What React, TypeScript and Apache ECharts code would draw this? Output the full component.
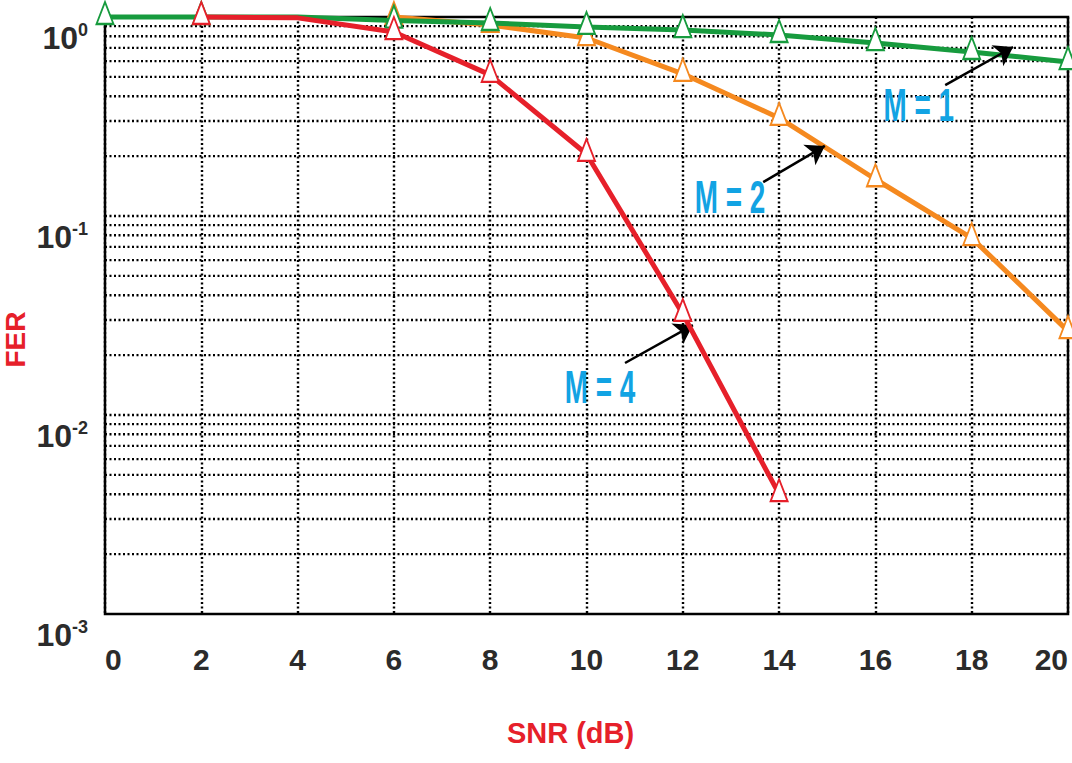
import React, { useEffect, useRef } from 'react';
import * as echarts from 'echarts';

// ---- data ----
const snrM1 = [0, 2, 4, 6, 8, 10, 12, 14, 16, 18, 20];
const ferM1 = [1.0, 1.0, 1.0, 0.96, 0.933, 0.891, 0.86, 0.812, 0.74, 0.667, 0.594];

const snrM2 = [6, 8, 10, 12, 14, 16, 18, 20];
const ferM2 = [1.0, 0.912, 0.784, 0.518, 0.311, 0.153, 0.0775, 0.0264];

const snrM4 = [2, 4, 6, 8, 10, 12, 14];
const ferM4 = [1.0, 0.99, 0.84, 0.512, 0.205, 0.0322, 0.004];

const hiddenMarkerSnr = [4];

// horizontal dotted grid values (1..9 x 10^k)
const yGridValues = [
  0.002, 0.003, 0.004, 0.005, 0.006, 0.007, 0.008, 0.009,
  0.01, 0.02, 0.03, 0.04, 0.05, 0.06, 0.07, 0.08, 0.09,
  0.1, 0.2, 0.3, 0.4, 0.5, 0.6, 0.7, 0.8, 0.9,
];

const annotationLabels = ['M = 1', 'M = 2', 'M = 4'];
const annotationPos = [[16.9, 0.361], [12.98, 0.1245], [10.28, 0.01383]];
const arrowFrom = [[17.45, 0.455], [13.67, 0.148], [10.8, 0.01825]];
const arrowTo = [[18.86, 0.707], [14.95, 0.225], [12.21, 0.0283]];

const X_MIN = 0;
const X_MAX = 20;
const X_STEP = 2;

const FONT = "'Liberation Sans', Arial, sans-serif";
const RED = '#e6202a';
const GREEN = '#179b3e';
const ORANGE = '#f5891f';
const CYAN = '#12a3e3';
const LABEL_GREY = '#2b2b2b';

function buildSeriesData(xs: number[], ys: number[]) {
  return xs.map((x, i) =>
    hiddenMarkerSnr.includes(x)
      ? { value: [x, ys[i]], symbol: 'none' }
      : { value: [x, ys[i]] }
  );
}

function lineSeries(name: string, xs: number[], ys: number[], color: string, z: number) {
  return {
    name,
    type: 'line',
    data: buildSeriesData(xs, ys),
    z,
    clip: false,
    symbol: 'triangle',
    symbolSize: [17, 22],
    symbolOffset: [0, -4],
    showAllSymbol: true,
    lineStyle: { color, width: 5 },
    itemStyle: { color: '#ffffff', borderColor: color, borderWidth: 2 },
    emphasis: { disabled: true },
  };
}

export default function App() {
  const ref = useRef<HTMLDivElement>(null);

  useEffect(() => {
    if (!ref.current) return;
    const chart = echarts.init(ref.current, undefined, { renderer: 'svg' });

    const option: any = {
      animation: false,
      backgroundColor: '#ffffff',
      grid: {
        left: 105,
        right: 4,
        top: 17,
        bottom: 149,
        show: true,
        borderColor: '#000',
        borderWidth: 2.5,
        backgroundColor: 'transparent',
        outerBoundsMode: 'none',
      },
      xAxis: {
        type: 'value',
        min: X_MIN,
        max: X_MAX,
        interval: X_STEP,
        name: 'SNR (dB)',
        nameLocation: 'middle',
        nameGap: 104,
        nameMoveOverlap: false,
        nameTextStyle: {
          color: RED,
          fontSize: 29,
          fontWeight: 'bold',
          fontFamily: FONT,
          padding: [0, 32, 0, 0],
        },
        axisLine: { show: false },
        axisTick: { show: false },
        axisLabel: {
          margin: 30,
          fontSize: 30,
          fontWeight: 'bold',
          fontFamily: FONT,
          color: LABEL_GREY,
          alignMinLabel: 'left',
          alignMaxLabel: 'right',
        },
        splitLine: {
          show: true,
          lineStyle: { color: '#000', width: 2.4, type: [2, 2.5] },
        },
      },
      yAxis: {
        type: 'log',
        logBase: 10,
        min: 0.001,
        max: 1,
        name: 'FER',
        nameLocation: 'middle',
        nameRotate: 90,
        nameGap: 76,
        nameMoveOverlap: false,
        nameTextStyle: {
          color: RED,
          fontSize: 28,
          fontWeight: 'bold',
          fontFamily: FONT,
          padding: [0, 48, 0, 0],
        },
        axisLine: { show: false },
        axisTick: { show: false },
        splitLine: { show: false },
        axisLabel: {
          margin: 17,
          verticalAlign: 'top',
          padding: [4, 0, 0, 0],
          formatter: (v: number) => {
            const e = Math.round(Math.log10(v));
            return `{b|10}{s|${e}}`;
          },
          rich: {
            b: {
              fontSize: 32,
              lineHeight: 34,
              fontWeight: 'bold',
              fontFamily: FONT,
              color: LABEL_GREY,
            },
            s: {
              fontSize: 18,
              fontWeight: 'bold',
              fontFamily: FONT,
              color: LABEL_GREY,
              verticalAlign: 'top',
            },
          },
        },
      },
      series: [
        {
          name: 'grid',
          type: 'custom',
          z: 1,
          silent: true,
          data: yGridValues.map((v) => [X_MIN, v]),
          renderItem: (params: any, api: any) => {
            const v = api.value(1);
            const p1 = api.coord([X_MIN, v]);
            const p2 = api.coord([X_MAX, v]);
            return {
              type: 'line',
              shape: { x1: p1[0], y1: p1[1], x2: p2[0], y2: p2[1] },
              style: { stroke: '#000', lineWidth: 2.4, lineDash: [2, 2.5] },
            };
          },
        },
        lineSeries('M = 2', snrM2, ferM2, ORANGE, 3),
        lineSeries('M = 1', snrM1, ferM1, GREEN, 4),
        lineSeries('M = 4', snrM4, ferM4, RED, 5),
        {
          name: 'annotations',
          type: 'scatter',
          z: 6,
          silent: true,
          symbolSize: 1,
          itemStyle: { color: 'rgba(0,0,0,0)' },
          data: annotationPos.map((p, i) => ({ value: p, name: annotationLabels[i] })),
          label: { show: false },
          markLine: {
            silent: true,
            symbol: ['none', 'arrow'],
            symbolSize: 18,
            label: { show: false },
            lineStyle: { color: '#000', width: 2.5, type: 'solid' },
            data: arrowFrom.map((f, i) => [{ coord: f }, { coord: arrowTo[i] }]),
          },
        },
      ],
    };

    chart.setOption(option);

    // annotation texts placed through the chart's own scales (tall, condensed look)
    const pts = annotationPos.map((p) => chart.convertToPixel({ gridIndex: 0 } as any, p) as number[]);
    chart.setOption({
      graphic: annotationLabels.map((t, i) => ({
        type: 'text',
        x: pts[i][0],
        y: pts[i][1],
        scaleX: 0.82,
        scaleY: 1.35,
        z: 100,
        silent: true,
        style: {
          text: t,
          fill: CYAN,
          font: `bold 34px ${FONT}`,
          textAlign: 'center',
          textVerticalAlign: 'middle',
        },
      })),
    });

    return () => {
      chart.dispose();
    };
  }, []);

  return (
    <div
      ref={ref}
      style={{ position: 'fixed', left: 0, top: 0, width: 1072, height: 763, background: '#fff' }}
    />
  );
}
